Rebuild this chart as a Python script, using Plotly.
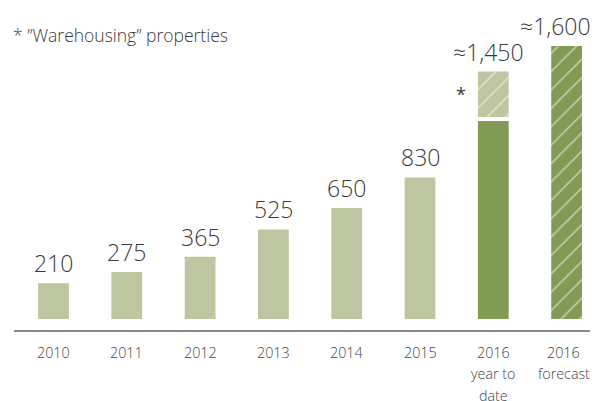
import plotly.graph_objects as go

categories = ["2010", "2011", "2012", "2013", "2014", "2015", "2016<br>year to<br>date", "2016<br>forecast"]
value_labels = ["210", "275", "365", "525", "650", "830", "≈1,450", "≈1,600"]
annual_values = [210, 275, 365, 525, 650, 830]
ytd_other = 1160
ytd_warehousing = 266
ytd_total = 1450
forecast_value = 1600
footnote = "* ”Warehousing” properties"

LIGHT = "#bec5a1"
DARK = "#819a54"
TEXT = "#3a3a3a"
FONT = "Open Sans"

# page is drawn with an 8px body margin: work in page pixels, subtract offset
OFF = 8
W, H = 598, 401

x = list(range(len(categories)))
bw = 0.42
gap = ytd_total - ytd_other - ytd_warehousing

fig = go.Figure()
fig.add_bar(x=x[:6], y=annual_values, width=bw, marker=dict(color=LIGHT, line=dict(width=0)))
fig.add_bar(x=[x[6]], y=[ytd_other], width=bw, marker=dict(color=DARK, line=dict(width=0)))
fig.add_bar(x=[x[6]], y=[ytd_warehousing], base=[ytd_other + gap], width=bw,
            marker=dict(color=LIGHT, line=dict(width=0),
                        pattern=dict(shape="/", fgcolor="white", bgcolor=LIGHT, size=13, solidity=0.12)))
fig.add_bar(x=[x[7]], y=[forecast_value], width=bw,
            marker=dict(color=DARK, line=dict(width=0),
                        pattern=dict(shape="/", fgcolor="white", bgcolor=DARK, size=13, solidity=0.12)))

tops = annual_values + [ytd_total, forecast_value]
xshift = [0, 0, 0, 0, 0, 0, -5, -11]
for i, (lab, top) in enumerate(zip(value_labels, tops)):
    fig.add_annotation(x=x[i], y=top, text=lab, showarrow=False, yanchor="bottom",
                       yshift=2, xshift=xshift[i],
                       font=dict(family=FONT, size=23, color=TEXT, weight=300))

def py(page_y):
    return 1 - (page_y - OFF) / H

for i, cat in enumerate(categories):
    for j, line in enumerate(cat.split("<br>")):
        fig.add_annotation(x=x[i], xref="x", y=py(352 + 21.5 * j), yref="paper",
                           text=line, showarrow=False, yanchor="middle",
                           xshift=-3 if i == len(categories) - 1 else 0,
                           font=dict(family=FONT, size=14.3, color="#444444", weight=300))

fig.add_annotation(x=(11 - OFF) / W, xref="paper", y=py(35), yref="paper", text=footnote,
                   showarrow=False, xanchor="left", yanchor="middle",
                   font=dict(family=FONT, size=17.5, color=TEXT, weight=300))
fig.add_annotation(x=x[6], y=ytd_other + gap + ytd_warehousing / 2, text="*", showarrow=False,
                   xshift=-32, font=dict(family=FONT, size=18, color=TEXT))

k = 273 / 1600
base_px = 319 - OFF
ymin = -(H - base_px) / k
ymax = base_px / k
xc0 = 53.5 - OFF
xmin = -xc0 / 73.3
xmax = (W - xc0) / 73.3
axis_y = -12 / k
fig.add_shape(type="line", xref="paper", yref="y", x0=(14 - OFF) / W, x1=1, y0=axis_y, y1=axis_y,
              line=dict(color="#8a8a8a", width=2))

fig.update_layout(width=W, height=H, margin=dict(l=0, r=0, t=0, b=0),
                  paper_bgcolor="white", plot_bgcolor="white", showlegend=False,
                  barmode="overlay",
                  xaxis=dict(range=[xmin, xmax], visible=False, fixedrange=True),
                  yaxis=dict(range=[ymin, ymax], visible=False, fixedrange=True))
fig.write_html("out.html")
